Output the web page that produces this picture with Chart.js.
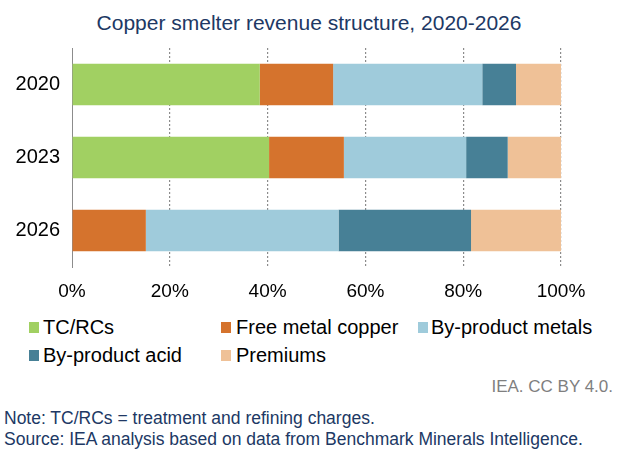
<!DOCTYPE html>
<html>
<head>
<meta charset="utf-8">
<script src="https://cdn.jsdelivr.net/npm/chart.js@4/dist/chart.umd.min.js"></script>
<style>
  body { margin: 0; width: 624px; height: 468px; background: #fff; position: relative; overflow: hidden;
         font-family: "Liberation Sans", Arial, sans-serif; }
  #chart { position: absolute; left: 0; top: 0; }
  .txt { position: absolute; white-space: nowrap; }
  #title { left: 0; top: 12px; width: 618px; text-align: center; font-size: 21px; line-height: 21px; color: #203864; }
  .leg { position: absolute; font-size: 20px; line-height: 20px; color: #000; white-space: nowrap; }
  .sw { position: absolute; width: 10px; height: 11px; }
  #credit { right: 11px; top: 378px; font-size: 17px; line-height: 17px; color: #7f7f7f; }
  #note { left: 4px; top: 408px; font-size: 17.5px; line-height: 21px; color: #203864; }
</style>
</head>
<body>
<div id="title" class="txt">Copper smelter revenue structure, 2020-2026</div>
<canvas id="chart" width="624" height="310"></canvas>
<div id="legend"></div>
<div id="credit" class="txt">IEA. CC BY 4.0.</div>
<div id="note" class="txt">Note: TC/RCs = treatment and refining charges.<br>Source: IEA analysis based on data from Benchmark Minerals Intelligence.</div>
<script>
const years = ['2020', '2023', '2026'];
const seriesNames = ['TC/RCs', 'Free metal copper', 'By-product metals', 'By-product acid', 'Premiums'];
const tcrcs = [38.4, 40.3, 0];
const freeCopper = [15.0, 15.3, 15.1];
const byproductMetals = [30.5, 25.0, 39.4];
const byproductAcid = [6.9, 8.5, 27.1];
const premiums = [9.2, 10.9, 18.4];
const xTicks = [0, 20, 40, 60, 80, 100];

const colors = ['#a1d062', '#d5732d', '#9fcbdb', '#478096', '#efc197'];
const values = [tcrcs, freeCopper, byproductMetals, byproductAcid, premiums];

const font = '"Liberation Sans", Arial, sans-serif';

new Chart(document.getElementById('chart'), {
    type: 'bar',
    data: {
        labels: years,
        datasets: seriesNames.map((name, i) => ({
            label: name,
            data: values[i],
            backgroundColor: colors[i],
            borderWidth: 0,
            barPercentage: 0.57,
            categoryPercentage: 1
        }))
    },
    options: {
        indexAxis: 'y',
        responsive: false,
        animation: false,
        layout: { padding: { top: 48, right: 63, left: 0, bottom: 0 } },
        plugins: { legend: { display: false }, tooltip: { enabled: false } },
        scales: {
            x: {
                stacked: true,
                min: 0,
                max: 100,
                afterBuildTicks: (axis) => { axis.ticks = xTicks.map(v => ({ value: v })); },
                afterFit: (axis) => { axis.height = 43; },
                // dotted vertical gridlines, none at 0 (the y axis line sits there)
                border: { display: false, dash: [2, 2] },
                grid: {
                    drawTicks: false,
                    color: (ctx) => ctx.index === 0 ? 'rgba(0,0,0,0)' : '#8c8c8c',
                    lineWidth: 1.2
                },
                ticks: {
                    padding: 13,
                    color: '#000',
                    font: { family: font, size: 19 },
                    callback: (v) => v + '%'
                }
            },
            y: {
                stacked: true,
                afterFit: (axis) => { axis.width = 72; },
                border: { display: true, color: '#8c8c8c', width: 1 },
                grid: { display: false, drawTicks: false },
                ticks: {
                    padding: 12,
                    color: '#000',
                    font: { family: font, size: 20 }
                }
            }
        }
    }
});

// legend built from the same series names and colours
const legendPos = [
    { sx: 29, tx: 43, row: 0 },
    { sx: 221, tx: 236, row: 0 },
    { sx: 418, tx: 431, row: 0 },
    { sx: 29, tx: 43, row: 1 },
    { sx: 221, tx: 236, row: 1 }
];
const legend = document.getElementById('legend');
seriesNames.forEach((name, i) => {
    const p = legendPos[i];
    const top = p.row === 0 ? 317 : 345;
    const sw = document.createElement('div');
    sw.className = 'sw';
    sw.style.left = p.sx + 'px';
    sw.style.top = (top + 5) + 'px';
    sw.style.background = colors[i];
    legend.appendChild(sw);
    const t = document.createElement('div');
    t.className = 'leg';
    t.style.left = p.tx + 'px';
    t.style.top = top + 'px';
    t.textContent = name;
    legend.appendChild(t);
});
</script>
</body>
</html>
